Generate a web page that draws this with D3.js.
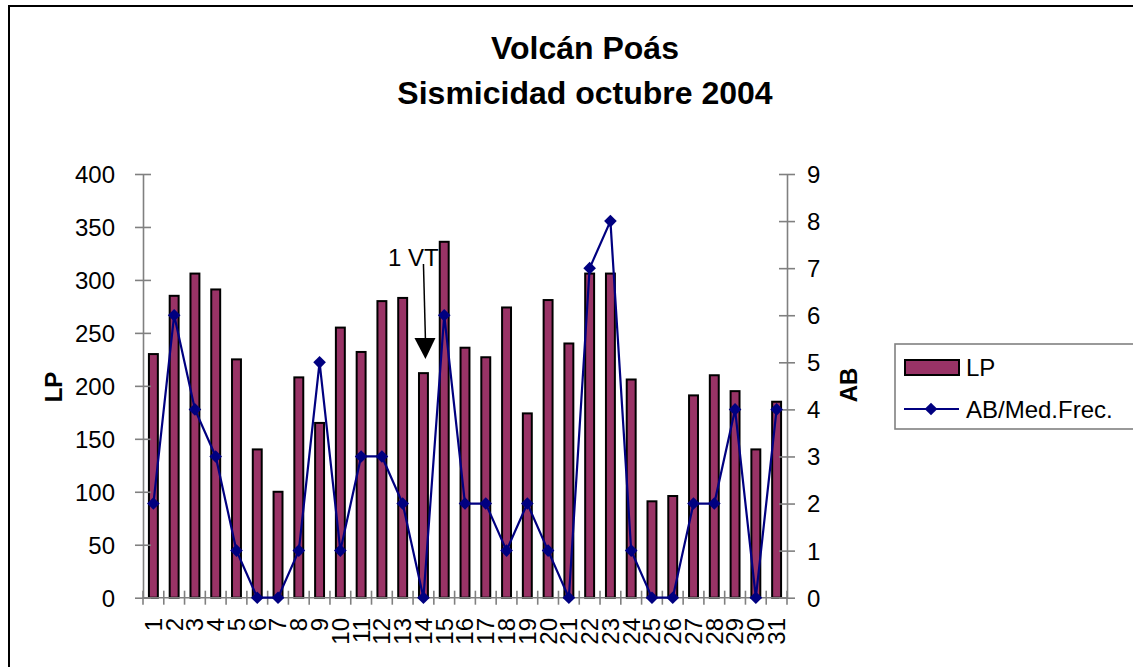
<!DOCTYPE html>
<html><head><meta charset="utf-8">
<script src="https://cdn.jsdelivr.net/npm/d3@7"></script>
<style>body{margin:0;background:#fff}svg{display:block}text{font-family:Arial,"Liberation Sans",sans-serif}</style>
</head><body><svg id="c" width="1133" height="667"></svg>
<script>
const days = d3.range(1, 32).map(String);
const lpValues = [230,285,306,291,225,140,100,208,165,255,232,280,283,212,336,236,227,274,174,281,240,306,306,206,91,96,191,210,195,140,185];
const abValues = [2,6,4,3,1,0,0,1,5,1,3,3,2,0,6,2,2,1,2,1,0,7,8,1,0,0,2,2,4,0,4];
const leftTicks = [0,50,100,150,200,250,300,350,400];
const rightTicks = [0,1,2,3,4,5,6,7,8,9];
const titleLines = ["Volcán Poás", "Sismicidad octubre 2004"];
const seriesNames = ["LP", "AB/Med.Frec."];
const annotation = {day: "14", text: "1 VT"};

const svg = d3.select("#c");
const m = {l:143, r:787, t:174, b:597.7};
const barColor = "#993366", lineColor = "#000080", axisColor = "#808080";

svg.append("rect").attr("x",9).attr("y",6).attr("width",1140).attr("height",670)
  .attr("fill","#fff").attr("stroke","#000").attr("stroke-width",2);

const x = d3.scaleBand().domain(days).range([m.l, m.r]).paddingInner(0).paddingOuter(0);
const yL = d3.scaleLinear().domain([0,400]).range([m.b, m.t]);
const yR = d3.scaleLinear().domain([0,9]).range([m.b, m.t]);

// title
svg.append("g").selectAll("text").data(titleLines).join("text")
  .attr("x", 585).attr("y",(d,i)=>59+i*45).attr("text-anchor","middle")
  .attr("font-size",32).attr("font-weight","bold").text(d=>d);

// bars
const bw = x.bandwidth()*0.43;
svg.append("g").selectAll("rect").data(lpValues).join("rect")
  .attr("x",(d,i)=>x(days[i])+x.bandwidth()/2-bw/2)
  .attr("y",d=>yL(d)).attr("width",bw).attr("height",d=>yL(0)-yL(d))
  .attr("fill",barColor).attr("stroke","#000").attr("stroke-width",2);

// axes
function styleAxis(g){ g.selectAll("path,line").attr("stroke",axisColor).attr("stroke-width",1.6);
  g.selectAll("text").attr("font-size",24).attr("fill","#000"); }
const gl = svg.append("g").attr("transform",`translate(${m.l},0)`)
  .call(d3.axisLeft(yL).tickValues(leftTicks).tickSize(8).tickSizeOuter(0).tickPadding(20));
gl.selectAll(".tick line").attr("x2",8).attr("x1",-8);
styleAxis(gl);
gl.selectAll("text").attr("dy","0.35em");

const gr = svg.append("g").attr("transform",`translate(${m.r},0)`)
  .call(d3.axisRight(yR).tickValues(rightTicks).tickSize(8).tickSizeOuter(0).tickPadding(12));
gr.selectAll(".tick line").attr("x1",-8).attr("x2",8);
styleAxis(gr);
gr.selectAll("text").attr("dy","0.35em");

// x axis
const gx = svg.append("g");
gx.append("line").attr("x1",m.l).attr("x2",m.r).attr("y1",m.b).attr("y2",m.b)
  .attr("stroke",axisColor).attr("stroke-width",1.6);
const bounds = days.map(d=>x(d)).concat([m.r]);
gx.selectAll("line.t").data(bounds).join("line").attr("class","t")
  .attr("x1",d=>d).attr("x2",d=>d).attr("y1",m.b-7).attr("y2",m.b+7)
  .attr("stroke",axisColor).attr("stroke-width",1.6);
gx.selectAll("text").data(days).join("text")
  .attr("transform",d=>`translate(${x(d)+x.bandwidth()/2},618) rotate(-90)`)
  .attr("text-anchor","end").attr("dy","0.35em").attr("font-size",24).text(d=>d);

// line
const line = d3.line().x((d,i)=>x(days[i])+x.bandwidth()/2).y(d=>yR(d));
svg.append("path").datum(abValues).attr("d",line).attr("fill","none")
  .attr("stroke",lineColor).attr("stroke-width",2.2);
svg.append("g").selectAll("path").data(abValues).join("path")
  .attr("transform",(d,i)=>`translate(${x(days[i])+x.bandwidth()/2},${yR(d)}) rotate(45)`)
  .attr("d",d3.symbol().type(d3.symbolSquare).size(80)).attr("fill",lineColor);

// axis titles
svg.append("text").attr("transform","translate(62,387) rotate(-90)").attr("text-anchor","middle")
  .attr("font-size",24).attr("font-weight","bold").text("LP");
svg.append("text").attr("transform","translate(857,385) rotate(-90)").attr("text-anchor","middle")
  .attr("font-size",24).attr("font-weight","bold").text("AB");

// annotation
const ax = x(annotation.day)+x.bandwidth()/2;
svg.append("text").attr("x",388).attr("y",266).attr("font-size",24).text(annotation.text);
svg.append("line").attr("x1",ax).attr("y1",264).attr("x2",ax+2).attr("y2",340)
  .attr("stroke","#000").attr("stroke-width",1.5);
svg.append("path").attr("d",`M${ax-9},338 L${ax+12},338 L${ax+2},359 Z`).attr("fill","#000");

// legend
const lg = svg.append("g");
lg.append("rect").attr("x",895).attr("y",344).attr("width",260).attr("height",85)
  .attr("fill","#fff").attr("stroke",axisColor).attr("stroke-width",1.6);
lg.append("rect").attr("x",905).attr("y",360).attr("width",54).attr("height",15)
  .attr("fill",barColor).attr("stroke","#000").attr("stroke-width",2);
lg.append("line").attr("x1",904).attr("x2",959).attr("y1",409).attr("y2",409)
  .attr("stroke",lineColor).attr("stroke-width",2.2);
lg.append("path").attr("transform","translate(931,409) rotate(45)")
  .attr("d",d3.symbol().type(d3.symbolSquare).size(80)).attr("fill",lineColor);
lg.selectAll("text").data(seriesNames).join("text")
  .attr("x",966).attr("y",(d,i)=>368+i*42).attr("dy","0.35em").attr("font-size",24).text(d=>d);
</script></body></html>
